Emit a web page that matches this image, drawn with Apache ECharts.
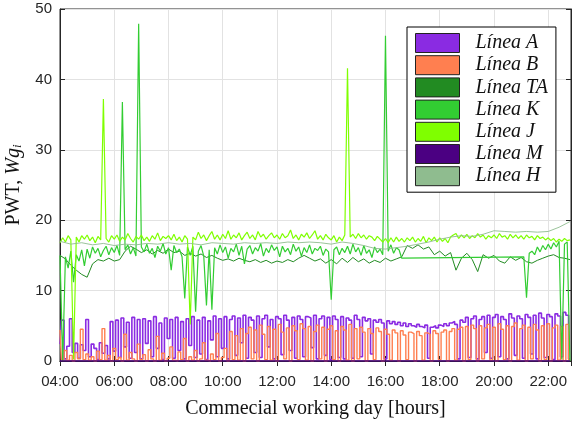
<!DOCTYPE html>
<html>
<head>
<meta charset="utf-8">
<script src="https://cdn.jsdelivr.net/npm/echarts@6/dist/echarts.min.js"></script>
<style>html,body{margin:0;padding:0;background:#fff;}#c{width:573px;height:423px;}</style>
</head>
<body>
<div id="c"></div>
<script>
// Time sampling (hours of the day)
const startHour = 4;
const endHour = 22.84;
const tickHours = [4, 6, 8, 10, 12, 14, 16, 18, 20, 22];

// Línea A (6-minute samples from 04:00)
const lineA = [
2.4,5.8,0.3,2.1,6.0,1.2,2.5,0.4,2.3,1.5,
5.9,0.6,2.4,1.8,0.2,2.6,1.1,2.2,0.3,5.6,
1.4,5.8,0.5,6.1,2.0,5.5,0.4,6.2,1.2,5.9,
0.3,6.0,2.5,5.7,0.6,6.3,1.8,5.4,0.2,6.1,
3.2,5.9,0.4,6.2,1.5,5.6,0.3,6.0,2.2,6.3,
0.5,5.8,1.0,6.2,0.2,5.7,3.0,6.4,0.6,6.0,
1.8,6.3,0.3,5.9,6.4,0.8,6.1,2.6,6.5,0.4,
6.2,5.8,1.2,6.4,0.5,6.0,6.5,2.0,5.9,0.3,
6.3,6.0,0.9,6.5,5.8,1.5,6.2,0.4,6.4,5.9,
0.6,6.3,6.1,1.9,6.5,0.3,6.0,6.4,0.8,6.2,
0.2,6.4,5.9,0.5,6.3,0.3,6.1,5.8,0.4,6.5,
5.9,0.6,6.2,5.7,6.0,1.0,5.8,5.5,5.9,5.4,
0.3,5.7,5.3,5.6,5.2,5.5,5.0,5.4,4.9,5.3,
5.0,4.8,5.2,4.9,4.7,5.1,0.4,4.8,5.0,4.7,
5.1,4.9,5.3,5.0,5.4,5.6,5.2,0.3,5.8,5.5,
6.2,0.5,6.0,6.4,0.3,5.9,6.3,1.2,6.5,0.4,
6.2,6.6,0.6,6.3,5.9,0.3,6.7,6.1,0.8,6.4,
6.0,0.4,6.6,6.2,1.0,6.5,0.3,6.8,6.1,0.5,
6.6,6.3,0.2,6.7,6.4,0.6,6.9,6.5,0.3
];

// Línea B (6-minute samples from 04:00)
const lineB = [
4.4,0.2,1.5,0.1,0.8,0.0,1.2,0.3,4.5,0.2,
1.0,0.1,0.6,0.0,1.4,0.2,4.6,0.1,0.8,0.0,
1.8,0.2,0.5,0.0,3.8,0.1,1.2,0.3,0.0,2.4,
0.2,0.9,0.0,1.6,0.3,0.0,3.5,0.1,1.1,0.0,
0.4,2.0,0.1,0.0,1.3,0.2,3.2,0.0,0.6,0.1,
1.5,0.0,0.3,2.6,0.1,0.0,1.0,0.2,3.9,0.0,
0.5,1.8,0.0,4.2,0.2,3.6,0.1,4.6,0.0,3.9,
4.8,0.3,4.4,0.0,5.1,3.8,0.2,4.9,0.1,4.5,
0.0,5.2,4.1,0.3,4.7,0.0,5.0,4.3,0.2,5.3,
4.6,0.1,4.9,0.0,4.2,5.1,0.3,4.8,0.0,4.5,
5.0,0.2,4.3,0.0,4.9,4.4,0.1,5.2,0.0,4.6,
0.3,4.8,4.1,0.0,4.6,3.9,0.2,4.7,4.2,0.0,
4.5,3.8,0.1,4.4,4.0,0.0,4.3,3.7,0.2,4.1,
3.9,0.0,4.2,3.6,0.1,4.0,3.8,0.0,4.3,3.9,
0.2,4.1,4.4,0.0,4.2,4.6,0.1,4.5,4.8,0.0,
4.9,0.2,5.1,4.6,0.0,5.0,0.3,4.7,5.2,0.1,
4.8,0.0,5.3,4.5,0.2,5.0,0.0,4.9,5.4,0.1,
4.6,5.1,0.0,4.8,0.3,5.2,4.4,0.0,5.0,0.2,
5.3,0.0,4.7,5.1,0.1,4.9,0.0,5.2,0.2
];

// Línea TA (12-minute samples from 04:00)
const lineTA = [
15.0,14.5,13.6,12.9,12.3,11.9,13.8,14.4,14.2,14.6,
14.2,14.4,15.6,16.3,15.9,15.4,15.8,15.2,15.7,15.3,
15.9,15.4,15.6,15.0,15.3,14.9,15.2,14.7,15.0,14.6,
14.3,14.5,14.2,14.6,14.3,14.1,14.4,14.0,14.3,13.9,
14.2,14.0,14.4,14.1,14.6,15.0,14.6,14.2,14.5,13.9,
14.4,13.8,14.6,14.0,14.7,14.1,14.5,13.9,14.3,14.0,
14.6,14.2,14.5,14.8,16.4,16.0,16.5,15.9,16.2,15.1,
15.6,14.9,15.4,12.9,14.6,15.3,14.4,12.7,15.1,14.6,
15.0,14.2,13.9,14.8,14.3,14.7,14.1,13.9,14.3,14.6,
14.9,15.1,14.7,14.6,14.4
];

// Línea K (6-minute samples from 04:00; null = no samples)
const lineK = [
15.0,0.0,14.8,13.2,15.6,11.2,15.1,14.2,15.8,13.5,
15.9,14.6,16.2,15.3,16.0,14.8,15.7,16.3,15.1,16.1,
15.4,16.4,15.0,36.8,15.8,16.5,15.2,16.1,14.9,47.9,
16.2,15.5,16.6,15.3,16.0,14.7,16.3,15.6,16.7,15.2,
16.1,12.9,16.4,15.4,15.9,14.8,8.9,16.2,15.0,16.3,
7.0,15.6,16.4,14.9,7.9,15.8,7.3,16.1,15.2,16.5,
15.4,16.2,14.6,16.0,15.5,16.6,15.0,16.3,13.8,15.9,
16.4,15.2,16.1,15.6,16.7,14.9,16.0,15.4,16.5,15.7,
16.2,14.8,16.3,15.5,16.0,15.1,16.6,15.6,16.2,14.9,
16.1,15.4,16.5,15.2,16.0,15.7,16.3,15.0,15.9,15.5,
8.7,15.8,16.2,15.1,16.0,15.4,16.3,15.2,16.6,15.5,
16.1,15.0,16.4,15.3,15.8,14.7,16.2,15.4,15.9,15.1,
46.2,15.6,16.5,15.3,16.1,15.8,14.6,null,null,null,
null,null,null,null,null,null,null,null,null,null,
null,null,null,null,null,null,null,null,null,null,
null,null,null,null,null,null,null,null,null,null,
null,null,null,null,null,null,null,null,null,null,
null,14.8,9.0,15.3,15.6,15.1,16.2,15.5,16.4,15.8,
16.6,15.9,16.8,16.2,17.0,0.2,16.6,16.9,0.0
];

// Línea J (6-minute samples from 04:00)
const lineJ = [
16.8,17.5,16.9,17.8,17.2,0.2,17.6,16.9,17.8,17.3,
17.9,17.1,17.6,16.8,17.7,17.2,37.2,17.4,16.9,17.8,
17.3,17.9,17.0,17.6,17.2,18.1,17.4,16.9,17.7,17.3,
17.9,17.1,17.6,17.0,17.8,17.3,18.2,17.1,17.7,17.4,
17.8,17.2,18.0,17.1,17.6,16.9,17.8,17.3,5.2,17.6,
17.2,18.3,17.4,17.9,17.1,17.8,18.4,17.3,17.9,17.2,
18.0,17.4,18.5,17.3,17.9,17.5,18.2,17.2,17.8,18.3,
17.4,17.9,17.2,18.4,17.6,18.0,17.3,17.8,18.2,17.5,
17.9,17.3,18.1,17.5,17.8,18.6,17.4,17.9,17.2,18.0,
17.6,18.2,17.4,17.9,18.5,17.3,17.8,17.2,18.0,17.5,
17.2,17.8,16.9,17.6,17.1,17.9,41.6,17.6,18.0,17.4,
18.1,17.5,17.9,17.3,17.8,17.6,17.1,17.7,17.3,16.9,
17.4,16.8,17.5,16.9,17.6,17.0,17.4,16.9,17.5,17.1,
17.6,16.9,17.4,17.0,17.7,16.8,17.5,17.1,17.6,16.9,
17.5,17.0,17.4,16.8,17.6,17.9,18.1,17.4,17.9,17.5,
18.0,17.4,17.8,17.5,18.1,17.6,17.9,17.3,17.8,17.5,
17.9,17.4,18.1,17.6,17.8,17.3,18.0,17.5,17.9,17.4,
17.8,17.3,17.9,17.5,17.7,17.2,17.8,17.4,17.6,17.2,
17.5,17.1,17.4,16.9,17.3,17.0,17.4,17.1,17.2
];

// Línea M (two samples, flat at zero)
const lineMHours = [4.0, 22.8];
const lineM = [0.0, 0.0];

// Línea H (24-minute samples from 04:00)
const lineH = [
17.0,16.6,16.8,16.5,16.7,16.4,16.6,16.5,16.7,16.6,
16.8,16.6,16.7,16.5,16.8,16.7,16.6,16.8,16.7,16.8,
16.7,16.9,16.8,16.9,16.8,16.6,16.9,16.7,16.4,16.0,
15.9,16.1,16.3,16.6,16.9,17.3,17.6,17.8,17.7,18.0,
18.5,18.4,18.3,18.4,18.3,18.4,19.0,19.8
];

const seriesNames = ['Línea A','Línea B','Línea TA','Línea K','Línea J','Línea M','Línea H'];
const seriesColors = ['#8A2BE2','#FF7F50','#228B22','#32CD32','#7FFF00','#4B0082','#8FBC8F'];

function sampled(values, stepMinutes) {
  return values.map((v, i) => [startHour + i * stepMinutes / 60, v]);
}
function paired(hours, values) {
  return hours.map((h, i) => [h, values[i]]);
}

const seriesData = [
  sampled(lineA, 6),
  sampled(lineB, 6),
  sampled(lineTA, 12),
  sampled(lineK, 6),
  sampled(lineJ, 6),
  paired(lineMHours, lineM),
  sampled(lineH, 24)
];
const widths = [1.6, 1.4, 1.0, 1.2, 1.2, 1.6, 0.9];
const steps = ['middle', 'middle', false, false, false, false, false];

const chart = echarts.init(document.getElementById('c'), null, {renderer: 'canvas'});
const axisColor = '#262626';
const labelFont = {color: axisColor, fontSize: 15, fontFamily: 'Liberation Sans, Arial, sans-serif'};

chart.setOption({
  animation: false,
  backgroundColor: '#ffffff',
  grid: {left: 60, right: 2, top: 9, bottom: 62, outerBoundsMode: 'none', containLabel: false, show: true, borderColor: axisColor, borderWidth: 1, backgroundColor: 'transparent'},
  legend: {
    orient: 'vertical',
    left: 407, top: 27,
    data: seriesNames,
    icon: 'rect',
    itemWidth: 44, itemHeight: 19, itemGap: 2.2,
    padding: [6, 8, 6, 8],
    backgroundColor: '#ffffff',
    borderColor: '#000000', borderWidth: 1,
    itemStyle: {borderColor: '#222', borderWidth: 1},
    textStyle: {fontFamily: 'Liberation Serif, Times New Roman, serif', fontStyle: 'italic', fontSize: 20, color: '#111', lineHeight: 19, padding: [0, 0, 0, 11]}
  },
  xAxis: [{
    type: 'value', min: startHour, max: endHour, interval: 2,
    position: 'bottom',
    axisLine: {show: true, lineStyle: {color: axisColor}},
    axisTick: {inside: true, length: 5, lineStyle: {color: axisColor}},
    axisLabel: Object.assign({margin: 13, showMaxLabel: false, formatter: v => (v < 10 ? '0' : '') + v + ':00'}, labelFont),
    splitLine: {show: true, lineStyle: {color: '#e2e2e2', width: 1}},
    name: 'Commecial working day [hours]',
    nameLocation: 'middle', nameGap: 38,
    nameTextStyle: {fontFamily: 'Liberation Serif, Times New Roman, serif', fontSize: 20, color: '#111'}
  }, {
    type: 'value', min: startHour, max: endHour, interval: 2,
    position: 'top',
    axisLine: {show: true, lineStyle: {color: axisColor}},
    axisTick: {inside: true, length: 5, lineStyle: {color: axisColor}},
    axisLabel: {show: false},
    splitLine: {show: false}
  }],
  yAxis: [{
    type: 'value', min: 0, max: 50, interval: 10,
    position: 'left',
    axisLine: {show: true, lineStyle: {color: axisColor}},
    axisTick: {inside: true, length: 5, lineStyle: {color: axisColor}},
    axisLabel: Object.assign({margin: 8}, labelFont),
    splitLine: {show: true, lineStyle: {color: '#e2e2e2', width: 1}},
    name: '{n|PWT, }{i|Wg}{s|i}',
    nameLocation: 'middle', nameGap: 28, nameRotate: 90,
    nameTextStyle: {
      rich: {
        n: {fontFamily: 'Liberation Serif, Times New Roman, serif', fontSize: 20, color: '#111'},
        i: {fontFamily: 'Liberation Serif, Times New Roman, serif', fontSize: 20, fontStyle: 'italic', color: '#111'},
        s: {fontFamily: 'Liberation Serif, Times New Roman, serif', fontSize: 13, fontStyle: 'italic', color: '#111', padding: [9, 0, 0, 0]}
      }
    }
  }, {
    type: 'value', min: 0, max: 50, interval: 10,
    position: 'right',
    axisLine: {show: true, lineStyle: {color: axisColor}},
    axisTick: {inside: true, length: 5, lineStyle: {color: axisColor}},
    axisLabel: {show: false},
    splitLine: {show: false}
  }],
  series: seriesNames.map((name, k) => ({
    name: name,
    type: 'line',
    data: seriesData[k],
    xAxisIndex: 0, yAxisIndex: 0,
    showSymbol: false, symbol: 'none',
    step: steps[k],
    connectNulls: true,
    color: seriesColors[k],
    lineStyle: {color: seriesColors[k], width: widths[k]},
    z: 2 + k
  }))
});
</script>
</body>
</html>
